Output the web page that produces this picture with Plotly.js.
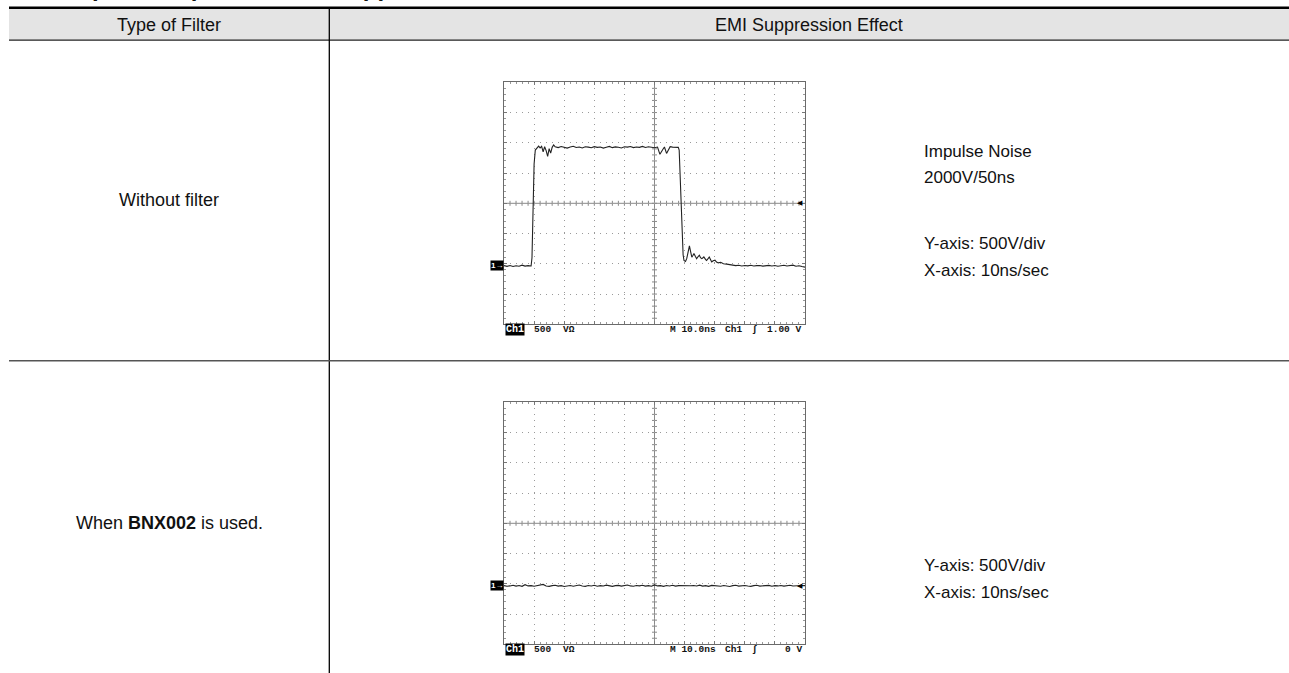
<!DOCTYPE html>
<html>
<head>
<meta charset="utf-8">
<script src="https://cdn.plot.ly/plotly-3.0.1.min.js"></script>
<style>html,body{margin:0;padding:0;background:#fff;}#chart{width:1289px;height:673px;}</style>
</head>
<body>
<div id="chart"></div>
<script>
// ---------------- DATA ----------------
const headerLabels = ["Type of Filter", "EMI Suppression Effect"];
const rowLabels = ["Without filter", "When <b>BNX002</b> is used."];
const notesRow1 = ["Impulse Noise", "2000V/50ns", "Y-axis: 500V/div", "X-axis: 10ns/sec"];
const notesRow2 = ["Y-axis: 500V/div", "X-axis: 10ns/sec"];
const scopeLabelsRow1 = ["500", "V\u03a9", "M 10.0ns", "Ch1", "\u222b", "1.00 V"];
const scopeLabelsRow2 = ["500", "V\u03a9", "M 10.0ns", "Ch1", "\u222b", "0 V"];
const pageTitle = "Example of Impulse Noise Suppression";

// time in ns, voltage in V (500 V/div)
const timeWithout = [0,1,2,3,4,5,6,7,8,9,9.3,9.6,10,10.4,11,11.5,12,12.5,13,13.5,14,14.5,15,15.5,16,16.5,17,
  18,19,20,21,22,23,24,25,26,27,28,29,30,31,32,33,34,35,36,37,38,39,40,41,42,43,44,45,46,47,48,49,50,51,
  51.8,52.7,53.3,54,54.6,55.2,56,57,57.9,58.2,58.5,58.8,59.1,59.5,59.8,60.3,60.7,61.2,61.6,62,62.4,62.8,
  63.1,63.6,64,64.5,64.9,65.3,65.7,66,66.4,67,67.3,67.8,68.2,68.6,69,69.5,70.1,70.6,71.2,72,72.9,74,
  75,76,77,78,79,80,81,82,83,84,85,86,87,88,89,90,91,92,93,94,95,96,97,98,99,100];
const voltsWithout = [-1030,-1042,-1028,-1045,-1032,-1040,-1022,-1038,-1030,-1036,-900,-100,650,880,925,945,915,940,850,935,870,775,905,830,925,965,935,
  920,938,925,912,930,942,922,930,915,935,928,918,936,925,930,912,928,940,920,932,926,915,934,928,938,920,930,925,940,922,935,930,918,930,
  810,885,930,825,880,935,928,932,925,880,420,20,-520,-850,-945,-960,-915,-790,-705,-800,-890,-860,
  -830,-880,-915,-880,-858,-900,-915,-905,-885,-930,-945,-915,-888,-930,-970,-950,-940,-970,-985,-975,-998,-1005,
  -1015,-1022,-1030,-1024,-1035,-1028,-1034,-1025,-1036,-1030,-1027,-1038,-1030,-1026,-1035,-1028,-1040,-1030,-1025,-1036,-1030,-1022,-1040,-1032,-1045,-1055];

const timeWith = [0,1,2,3,4,5,6,7,8,9,10,11,12,13,14,15,16,17,18,19,20,21,22,23,24,25,26,27,28,29,30,
  31,32,33,34,35,36,37,38,39,40,41,42,43,44,45,46,47,48,49,50,51,52,53,54,55,56,57,58,59,60,
  61,62,63,64,65,66,67,68,69,70,71,72,73,74,75,76,77,78,79,80,81,82,83,84,85,86,87,88,89,90,
  91,92,93,94,95,96,97,98,99,100];
const voltsWith = [-1030,-1040,-1035,-1025,-1038,-1028,-1042,-1015,-1035,-1030,-1040,-1032,-1028,-1010,-1035,-1042,-1030,-1025,-1038,-1030,-1045,
  -1032,-1028,-1040,-1030,-1020,-1036,-1042,-1028,-1035,-1025,-1040,-1030,-1037,-1022,-1035,-1043,-1030,-1026,-1038,-1030,
  -1020,-1035,-1040,-1028,-1034,-1025,-1038,-1030,-1040,-1018,-1035,-1030,-1042,-1028,-1036,-1024,-1038,-1030,-1033,-1025,
  -1040,-1032,-1028,-1036,-1022,-1038,-1030,-1042,-1026,-1034,-1030,-1040,-1028,-1035,-1045,-1030,-1025,-1038,-1032,-1028,
  -1036,-1042,-1030,-1025,-1038,-1030,-1034,-1026,-1040,-1030,-1035,-1028,-1038,-1032,-1025,-1036,-1030,-1034,-1028,-1030];

const groundLevel = [-1031, -1031];   // "1->" marker level for each scope
const triggerLevel = [0, -1031];      // trigger arrow level for each scope

// ---------------- LAYOUT HELPERS ----------------
const W = 1289, H = 673;
const PX = v => v / W;
const PY = v => 1 - v / H;
const textFont = "Liberation Sans, Arial, Helvetica, sans-serif";
const monoFont = "Liberation Mono, DejaVu Sans Mono, monospace";

const plotLeft = 504, plotRight = 805;
const plotTops = [82.3, 402.3], plotBottoms = [324.3, 644.3];

function scopeAxes(n) {
  const xa = {
    domain: [PX(plotLeft), PX(plotRight)], range: [0, 100], tick0: 0, dtick: 10,
    showgrid: true, gridcolor: "#9a9a9a", griddash: "1px,5px", gridwidth: 1,
    showline: true, linecolor: "#6a6a6a", linewidth: 1, mirror: "ticks",
    ticks: "inside", ticklen: 3, tickcolor: "#777", tickwidth: 1,
    showticklabels: false, zeroline: false, fixedrange: true,
    minor: {dtick: 2, tick0: 0, ticks: "inside", ticklen: 2, tickcolor: "#999", showgrid: false},
    anchor: n === 1 ? "y" : "y2"
  };
  const ya = {
    domain: [PY(plotBottoms[n-1]), PY(plotTops[n-1])], range: [-2000, 2000], tick0: 0, dtick: 500,
    showgrid: true, gridcolor: "#9a9a9a", griddash: "1px,5px", gridwidth: 1,
    showline: true, linecolor: "#6a6a6a", linewidth: 1, mirror: "ticks",
    ticks: "inside", ticklen: 3, tickcolor: "#777", tickwidth: 1,
    showticklabels: false, zeroline: false, fixedrange: true,
    minor: {dtick: 100, tick0: 0, ticks: "inside", ticklen: 2, tickcolor: "#999", showgrid: false},
    anchor: n === 1 ? "x" : "x2"
  };
  return [xa, ya];
}

const [xa1, ya1] = scopeAxes(1);
const [xa2, ya2] = scopeAxes(2);

const traces = [
  {x: timeWithout, y: voltsWithout, xaxis: "x", yaxis: "y", type: "scatter", mode: "lines",
   line: {color: "#222", width: 1.1}, hoverinfo: "skip"},
  {x: timeWith, y: voltsWith, xaxis: "x2", yaxis: "y2", type: "scatter", mode: "lines",
   line: {color: "#222", width: 1.1}, hoverinfo: "skip"}
];

// ---------------- SHAPES ----------------
const shapes = [];
// header band
shapes.push({type: "rect", xref: "paper", yref: "paper", x0: PX(9), x1: 1, y0: PY(40), y1: PY(8),
  fillcolor: "#e4e4e4", line: {width: 0}, layer: "below"});
shapes.push({type: "line", xref: "paper", yref: "paper", x0: PX(9), x1: 1, y0: PY(7.8), y1: PY(7.8),
  line: {color: "#000", width: 2.5}});
shapes.push({type: "line", xref: "paper", yref: "paper", x0: PX(9), x1: 1, y0: PY(40.2), y1: PY(40.2),
  line: {color: "#222", width: 1.2}});
// column divider
shapes.push({type: "line", xref: "paper", yref: "paper", x0: PX(329.3), x1: PX(329.3), y0: 0, y1: PY(8),
  line: {color: "#000", width: 1.3}});
// row divider
shapes.push({type: "line", xref: "paper", yref: "paper", x0: PX(9), x1: 1, y0: PY(360.7), y1: PY(360.7),
  line: {color: "#555", width: 1.5}});

// centre cross with minor ticks for each scope
[["x", "y"], ["x2", "y2"]].forEach(([xr, yr]) => {
  shapes.push({type: "line", xref: xr, yref: yr, x0: 50, x1: 50, y0: -2000, y1: 2000,
    line: {color: "#8a8a8a", width: 1}, layer: "below"});
  shapes.push({type: "line", xref: xr, yref: yr, x0: 0, x1: 100, y0: 0, y1: 0,
    line: {color: "#8a8a8a", width: 1}, layer: "below"});
  for (let t = 2; t < 100; t += 2) {
    shapes.push({type: "line", xref: xr, yref: yr, x0: t, x1: t, ysizemode: "pixel", yanchor: 0,
      y0: -2.5, y1: 2.5, line: {color: "#8a8a8a", width: 1}, layer: "below"});
  }
  for (let v = -1900; v < 2000; v += 100) {
    shapes.push({type: "line", xref: xr, yref: yr, y0: v, y1: v, xsizemode: "pixel", xanchor: 50,
      x0: -2.5, x1: 2.5, line: {color: "#8a8a8a", width: 1}, layer: "below"});
  }
});

// ---------------- ANNOTATIONS ----------------
const ann = [];
function txt(text, x, y, opts) {
  ann.push(Object.assign({text: text, xref: "paper", yref: "paper", x: PX(x), y: PY(y),
    showarrow: false, xanchor: "center", yanchor: "middle",
    font: {family: textFont, size: 18, color: "#111"}}, opts || {}));
}
// cut-off page title (only descenders visible, as in the reference)
ann.push({text: "<b>" + pageTitle + "</b>", xref: "paper", yref: "paper", x: PX(26), y: PY(3.5),
  xanchor: "left", yanchor: "bottom", showarrow: false,
  font: {family: textFont, size: 24, color: "#111"}});
// headers
txt(headerLabels[0], 169, 25);
txt(headerLabels[1], 809, 25);
// row labels
txt(rowLabels[0], 169, 200.2);
txt(rowLabels[1], 169, 522.5);
// notes
const notesY1 = [151.6, 177.2, 243.2, 270.6];
notesRow1.forEach((t, i) => txt(t, 922, notesY1[i], {xanchor: "left", font: {family: textFont, size: 17, color: "#111"}}));
const notesY2 = [565, 592.4];
notesRow2.forEach((t, i) => txt(t, 922, notesY2[i], {xanchor: "left", font: {family: textFont, size: 17, color: "#111"}}));

// scope labels
const scopeLabelX = [542.5, 569, 693, 733, 755, 803.5];
[[scopeLabelsRow1, 329], [scopeLabelsRow2, 649]].forEach(([labels, yy]) => {
  // Ch1 badge
  ann.push({text: "<b>Ch1</b>", xref: "paper", yref: "paper", x: PX(515), y: PY(yy), xanchor: "center", yanchor: "middle",
    showarrow: false, bgcolor: "#000", borderpad: 0, font: {family: monoFont, size: 10, color: "#fff"}});
  labels.forEach((t, i) => {
    const last = i === labels.length - 1;
    ann.push({text: "<b>" + t + "</b>", xref: "paper", yref: "paper", x: PX(scopeLabelX[i]), y: PY(yy),
      xanchor: last ? "right" : "center", yanchor: "middle", showarrow: false,
      font: {family: monoFont, size: 9.5, color: "#111"}});
  });
});

// ground markers and trigger arrows
[["x", "y"], ["x2", "y2"]].forEach(([xr, yr], i) => {
  ann.push({text: "<b>1\u2192</b>", xref: xr, yref: yr, x: 0, y: groundLevel[i], xanchor: "right", yanchor: "middle",
    showarrow: false, bgcolor: "#000", borderpad: 0, font: {family: textFont, size: 8, color: "#fff"}});
  ann.push({text: "\u25c0", xref: xr, yref: yr, x: 100, y: triggerLevel[i], xanchor: "right", yanchor: "middle",
    showarrow: false, font: {family: "DejaVu Sans, sans-serif", size: 7, color: "#000"}});
});

const layout = {
  width: W, height: H,
  margin: {l: 0, r: 0, t: 0, b: 0, pad: 0},
  paper_bgcolor: "#fff", plot_bgcolor: "#fff",
  showlegend: false,
  xaxis: xa1, yaxis: ya1, xaxis2: xa2, yaxis2: ya2,
  shapes: shapes,
  annotations: ann
};

Plotly.newPlot("chart", traces, layout, {staticPlot: true, displayModeBar: false});
</script>
</body>
</html>
